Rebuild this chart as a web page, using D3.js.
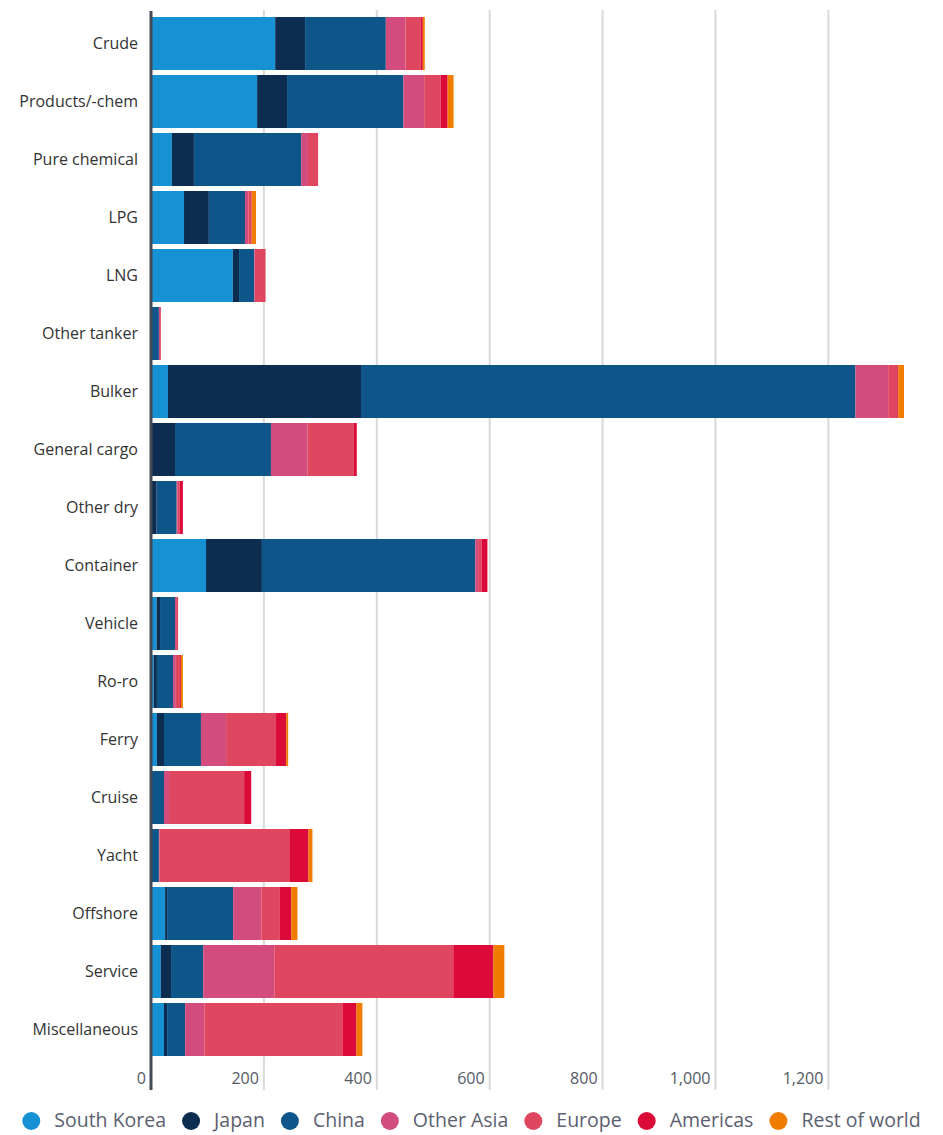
<!DOCTYPE html>
<html>
<head>
<meta charset="utf-8">
<script src="https://cdn.jsdelivr.net/npm/d3@7"></script>
<style>
  html, body { margin: 0; padding: 0; background: #fff; }
  svg { display: block; font-family: "Open Sans", sans-serif; }
</style>
</head>
<body>
<svg id="chart" width="943" height="1135"></svg>
<script>
const categories = ["Crude","Products/-chem","Pure chemical","LPG","LNG","Other tanker","Bulker","General cargo","Other dry","Container","Vehicle","Ro-ro","Ferry","Cruise","Yacht","Offshore","Service","Miscellaneous"];
const seriesNames = ["South Korea","Japan","China","Other Asia","Europe","Americas","Rest of world"];
const southKorea  = [220, 188, 37, 58.5, 145, 0, 30, 0, 0, 97.5, 10, 5, 10.5, 0, 0, 25, 17.5, 23];
const japan       = [53, 53, 39, 44, 11, 0, 342, 42.5, 10, 99, 6, 5.5, 12.5, 0, 0, 3.5, 18, 5.5];
const china       = [143, 206, 190, 64, 27, 14, 876, 170, 35.5, 378, 26.5, 28.5, 65.5, 23, 14, 117, 57, 32];
const otherAsia   = [35, 37, 12, 6, 1, 2, 58, 65, 2, 5, 2, 5, 44.5, 9, 1, 50, 126, 34];
const europe      = [27, 29, 18, 6, 19, 1.5, 16, 82, 3.5, 6, 3.5, 7.5, 88.5, 133, 230, 32, 317, 244.5];
const americas    = [3.5, 12.5, 0, 0, 0, 0, 2, 5, 5.5, 10.5, 0, 1.5, 18, 12.5, 34, 21, 71, 25];
const restOfWorld = [3.5, 10.5, 0, 7.5, 0, 0, 10, 0, 0, 0, 0, 3.5, 3.5, 0, 7, 11, 19.5, 10.5];
const tickValues = [0, 200, 400, 600, 800, 1000, 1200];
const colors = ["#1691D4","#0C2D4F","#0E5689","#D24D7D","#DF4660","#DB0A38","#F07D00"];

const seriesArrays = [southKorea, japan, china, otherAsia, europe, americas, restOfWorld];
const table = categories.map((c, i) => {
  const row = { category: c };
  seriesNames.forEach((s, j) => row[s] = seriesArrays[j][i]);
  return row;
});

const svg = d3.select("#chart");
const plotLeft = 151, plotRight = 904, plotTop = 14.5, plotBottom = 1058.5;
const maxTotal = d3.max(table, d => d3.sum(seriesNames, s => d[s]));

const x = d3.scaleLinear().domain([0, maxTotal]).range([plotLeft, plotRight]);
const y = d3.scaleBand().domain(categories).range([plotTop, plotBottom]).paddingInner(0.086).paddingOuter(0.043);
const color = d3.scaleOrdinal().domain(seriesNames).range(colors);

// gridlines
svg.append("g").selectAll("line").data(tickValues.filter(t => t > 0)).join("line")
  .attr("x1", d => x(d)).attr("x2", d => x(d))
  .attr("y1", 10).attr("y2", 1090)
  .attr("stroke", "#d9d9d9").attr("stroke-width", 2);

// stacked bars
const stacked = d3.stack().keys(seriesNames)(table);
svg.append("g").selectAll("g").data(stacked).join("g")
  .attr("fill", d => color(d.key))
  .selectAll("rect").data(d => d).join("rect")
  .attr("x", d => x(d[0]))
  .attr("width", d => Math.max(0, x(d[1]) - x(d[0])))
  .attr("y", d => y(d.data.category))
  .attr("height", y.bandwidth());

// x tick labels
svg.append("g").selectAll("text").data(tickValues).join("text")
  .attr("x", d => x(d) - 5).attr("y", 1084)
  .attr("text-anchor", "end")
  .attr("font-size", 16).attr("fill", "#555a66")
  .text(d => d3.format(",")(d));

// y axis line
svg.append("line").attr("x1", plotLeft).attr("x2", plotLeft).attr("y1", 11).attr("y2", 1090)
  .attr("stroke", "#454a57").attr("stroke-width", 3);

// category labels
svg.append("g").selectAll("text").data(categories).join("text")
  .attr("x", 138).attr("y", d => y(d) + y.bandwidth() / 2)
  .attr("dy", "0.35em").attr("text-anchor", "end")
  .attr("font-size", 16).attr("fill", "#333")
  .text(d => d);

// legend
const legend = svg.append("g");
let cx = 0;
seriesNames.forEach((s, i) => {
  const g = legend.append("g").attr("transform", `translate(${cx},0)`);
  g.append("circle").attr("cx", 9).attr("cy", 0).attr("r", 9).attr("fill", colors[i]);
  const t = g.append("text").attr("x", 32).attr("y", 0).attr("dy", "0.33em")
    .attr("font-size", 19.5).attr("fill", "#5b6070").text(s);
  const w = t.node().getComputedTextLength();
  cx += 32 + w + 16;
});
const totalW = cx - 16;
legend.attr("transform", `translate(${(943 - totalW) / 2},1121)`);
</script>
</body>
</html>
